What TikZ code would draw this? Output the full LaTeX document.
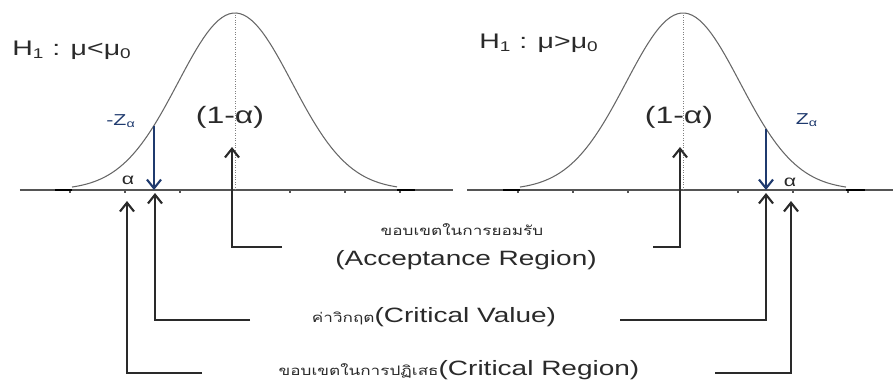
\documentclass[tikz,border=0pt]{standalone}
\usepackage{fontspec}
\setmainfont{Liberation Sans}[FakeStretch=1.35]
\newfontfamily\thaifont[Script=Thai,FakeStretch=1.3]{Loma}
\usetikzlibrary{arrows.meta}
\definecolor{navy}{HTML}{1F3A6E}
\definecolor{ink}{HTML}{2A2A2A}
\begin{document}
\begin{tikzpicture}[
        every node/.style={text=ink, inner sep=1pt},
        axis/.style={draw=ink!80, line width=0.6pt},
        curveline/.style={draw=black!60, line width=0.6pt},
        tail/.style={draw=black, line width=1.1pt},
        callout/.style={draw=ink, line width=1.2pt, -{Straight Barb[length=5pt,width=8pt]}},
        critarrow/.style={draw=navy, line width=1.2pt, -{Straight Barb[length=5pt,width=8pt]}},
        hyp/.style={font=\fontsize{12}{14}\selectfont},
        big/.style={font=\fontsize{13.5}{16}\selectfont},
        region/.style={font=\fontsize{11.8}{14}\selectfont},
        small/.style={font=\fontsize{9}{11}\selectfont},
        thai/.style={font=\thaifont\fontsize{7.5}{9}\selectfont}
    ]
    \useasboundingbox (0,-3.9) rectangle (17.86,3.8);

    % =====================================================
    % Left: H1 : mu < mu0
    % =====================================================
    \draw[axis] (0.4,0) -- (9.06,0);
    \foreach \k in {-3,-2,-1,1,2,3}
        \draw[axis] (4.7+1.1*\k,0) -- ++(0,-0.05);
    \draw[tail] (1.1,0) -- (1.44,0);
    \draw[tail] (7.94,0) -- (8.3,0);
    \draw[curveline] plot[domain=1.44:7.94, samples=90]
        (\x, {3.54*exp(-((\x-4.7)^2)/(2*1.14^2))});
    \draw[black!50, densely dotted] (4.7,0) -- (4.7,3.54);

    \node[hyp] (hypL) at (1.44,2.8) {H\textsubscript{1} : μ<μ\textsubscript{0}};
    \node[big] (accL) at (4.6,1.46) {(1-α)};
    \node[small, text=navy] (zL) at (2.42,1.38) {-Z\textsubscript{α}};
    \node[small] (alphaL) at (2.56,0.2) {α};

    \coordinate (zcurveL) at (3.08,1.29);
    \coordinate (zaxisL) at (3.08,0);
    \draw[critarrow] (zcurveL) -- (zaxisL);

    % =====================================================
    % Right: H1 : mu > mu0
    % =====================================================
    \draw[axis] (9.34,0) -- (17.86,0);
    \foreach \k in {-3,-2,-1,1,2,3}
        \draw[axis] (13.66+1.1*\k,0) -- ++(0,-0.05);
    \draw[tail] (10.06,0) -- (10.4,0);
    \draw[tail] (16.92,0) -- (17.3,0);
    \draw[curveline] plot[domain=10.4:16.92, samples=90]
        (\x, {3.54*exp(-((\x-13.66)^2)/(2*1.14^2))});
    \draw[black!50, densely dotted] (13.66,0) -- (13.66,3.54);

    \node[hyp] (hypR) at (10.78,2.94) {H\textsubscript{1} : μ>μ\textsubscript{0}};
    \node[big] (accR) at (13.58,1.46) {(1-α)};
    \node[small, text=navy] (zR) at (16.14,1.4) {Z\textsubscript{α}};
    \node[small] (alphaR) at (15.8,0.16) {α};

    \coordinate (zcurveR) at (15.32,1.23);
    \coordinate (zaxisR) at (15.32,0);
    \draw[critarrow] (zcurveR) -- (zaxisR);

    % =====================================================
    % Bottom: region labels
    % =====================================================
    \node[thai] (accThai) at (9.24,-0.8) {ขอบเขตในการยอมรับ};
    \node[region] (accText) at (9.32,-1.4) {(Acceptance Region)};
    \node[region] (cvText) at (8.68,-2.54) {{\thaifont\fontsize{7.5}{9}\selectfont ค่าวิกฤต}(Critical Value)};
    \node[region] (crText) at (9.18,-3.6) {{\thaifont\fontsize{7.5}{9}\selectfont ขอบเขตในการปฏิเสธ}(Critical Region)};

    % Callout arrows
    \coordinate (accStartL) at (5.64,-1.14);
    \coordinate (accTipL) at (4.64,0.86);
    \coordinate (accStartR) at (13.06,-1.14);
    \coordinate (accTipR) at (13.6,0.86);
    \draw[callout] (accStartL) -| (accTipL);
    \draw[callout] (accStartR) -| (accTipR);

    \coordinate (cvStartL) at (5.0,-2.6);
    \coordinate (cvTipL) at (3.1,-0.06);
    \coordinate (cvStartR) at (12.4,-2.6);
    \coordinate (cvTipR) at (15.32,-0.06);
    \draw[callout] (cvStartL) -| (cvTipL);
    \draw[callout] (cvStartR) -| (cvTipR);

    \coordinate (crStartL) at (4.04,-3.66);
    \coordinate (crTipL) at (2.54,-0.22);
    \coordinate (crStartR) at (14.3,-3.66);
    \coordinate (crTipR) at (15.82,-0.22);
    \draw[callout] (crStartL) -| (crTipL);
    \draw[callout] (crStartR) -| (crTipR);

\end{tikzpicture}
\end{document}
